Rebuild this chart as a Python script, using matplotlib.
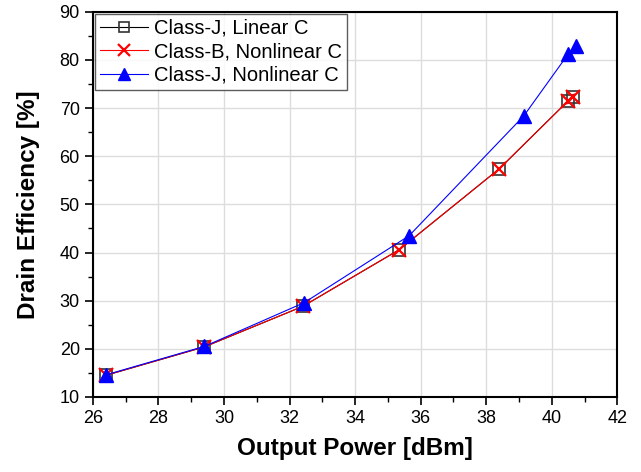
import matplotlib
matplotlib.use('Agg')
import matplotlib.pyplot as plt
from matplotlib.ticker import MultipleLocator

plt.rcParams['font.family'] = ['Liberation Sans', 'DejaVu Sans']

# Data
pout_j_lin = [26.4, 29.4, 32.4, 35.35, 38.4, 40.5, 40.65]
eff_j_lin = [14.5, 20.4, 28.8, 40.6, 57.4, 71.5, 72.3]

pout_b_nl = [26.4, 29.4, 32.4, 35.35, 38.4, 40.5, 40.65]
eff_b_nl = [14.5, 20.4, 28.8, 40.6, 57.4, 71.5, 72.3]

pout_j_nl = [26.4, 29.4, 32.45, 35.65, 39.15, 40.5, 40.75]
eff_j_nl = [14.6, 20.5, 29.6, 43.5, 68.4, 81.2, 82.8]

fig = plt.figure(figsize=(6.41, 4.72), dpi=100)
ax = fig.add_axes([0.145, 0.159, 0.818, 0.816])

ax.plot(pout_j_lin, eff_j_lin, color='black', lw=0.8, marker='s', ms=8,
        mfc='none', mec='#333333', mew=1.2, label='Class-J, Linear C')
ax.plot(pout_b_nl, eff_b_nl, color='red', lw=0.8, marker='x', ms=10,
        mec='red', mew=1.6, label='Class-B, Nonlinear C')
ax.plot(pout_j_nl, eff_j_nl, color='blue', lw=0.8, marker='^', ms=10,
        mfc='blue', mec='blue', label='Class-J, Nonlinear C')

ax.set_xlim(26, 42)
ax.set_ylim(10, 90)
ax.xaxis.set_major_locator(MultipleLocator(2))
ax.xaxis.set_minor_locator(MultipleLocator(1))
ax.yaxis.set_major_locator(MultipleLocator(10))
ax.yaxis.set_minor_locator(MultipleLocator(5))
ax.tick_params(which='major', direction='out', length=6, width=1.2, labelsize=13)
ax.tick_params(which='minor', direction='out', length=3.5, width=1.0)
ax.grid(True, which='major', color='#dddddd', lw=1.0)
ax.set_axisbelow(True)
for s in ax.spines.values():
    s.set_linewidth(1.5)

ax.set_xlabel('Output Power [dBm]', fontsize=17.5, fontweight='bold', labelpad=7)
ax.set_ylabel('Drain Efficiency [%]', fontsize=17.5, fontweight='bold', labelpad=14)

leg = ax.legend(loc='upper left', fontsize=14.5, frameon=True, fancybox=False,
                edgecolor='#333333', borderaxespad=0.1, handlelength=2.4,
                handletextpad=0.3, borderpad=0.25, labelspacing=0.22,
                markerscale=0.85)
leg.get_frame().set_linewidth(1.0)

fig.savefig('out.png', dpi=100)
